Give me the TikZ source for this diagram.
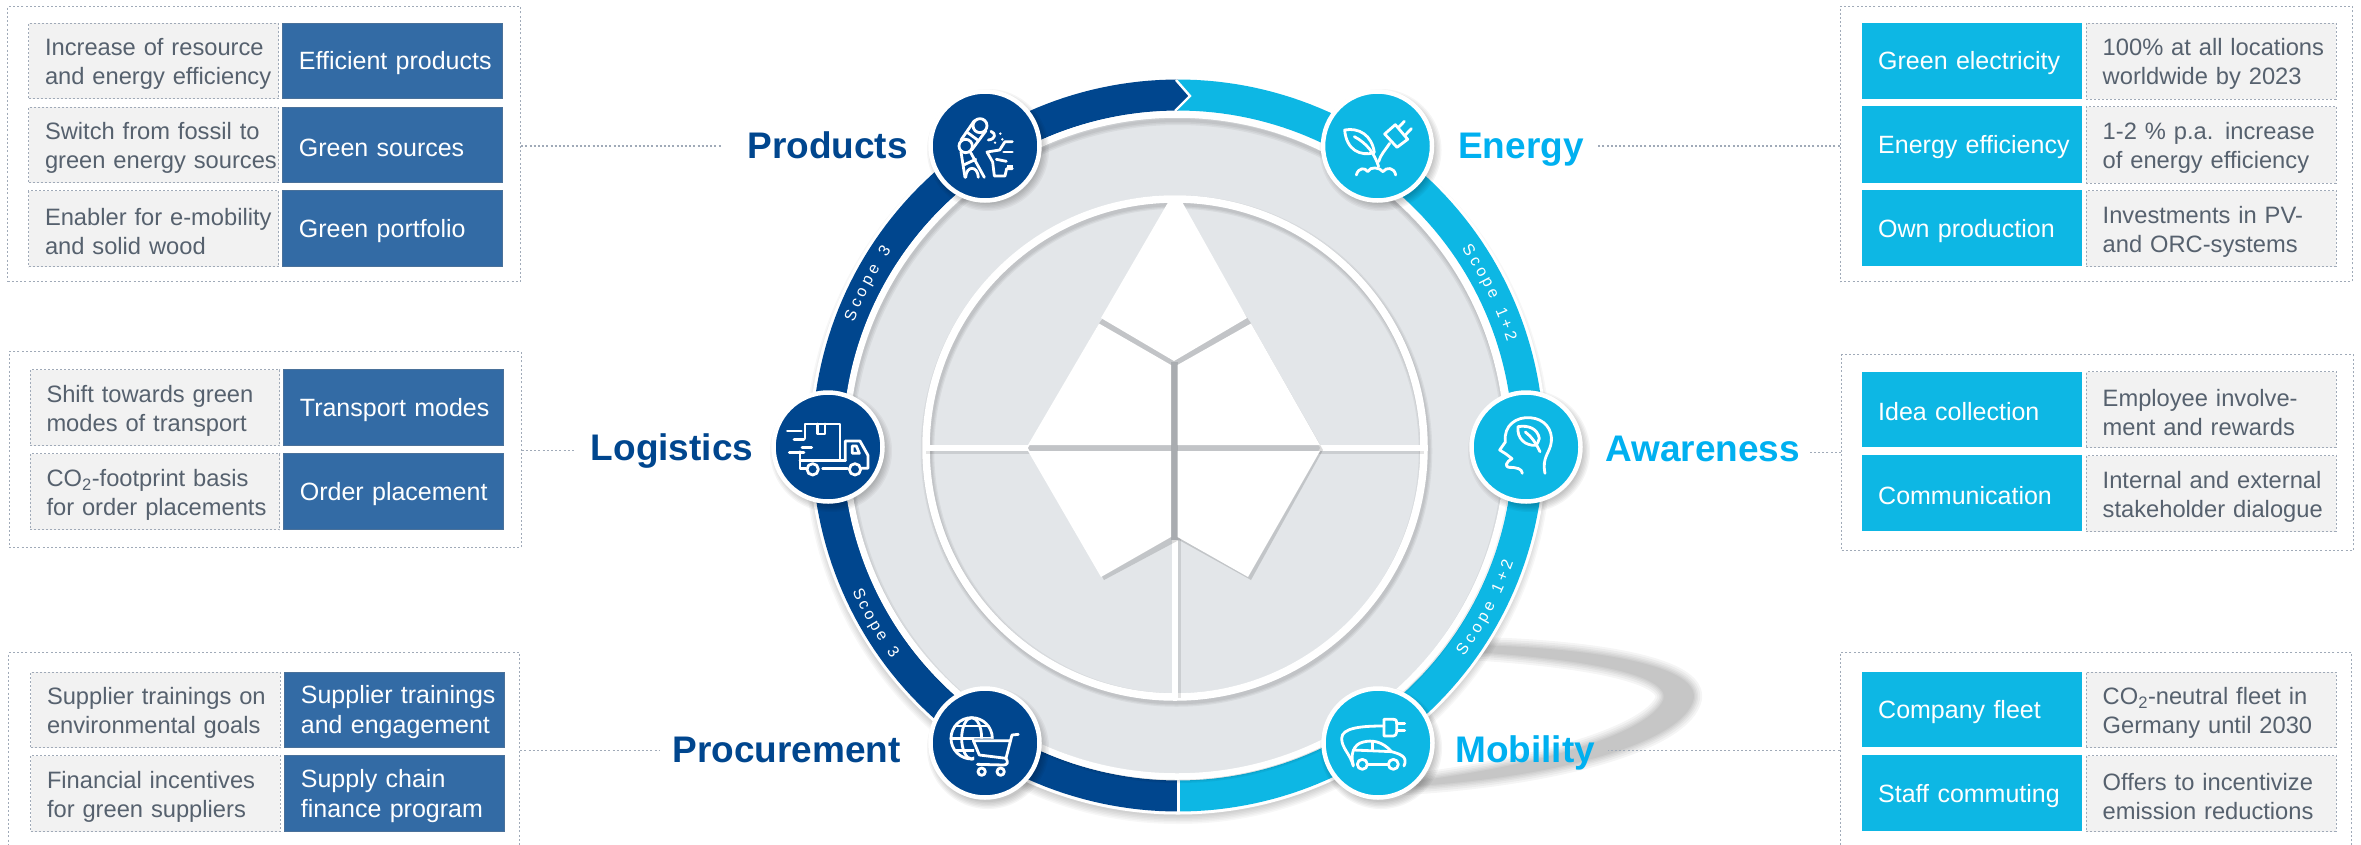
\documentclass[tikz,border=0pt]{standalone}
\usepackage{fontspec}
\setmainfont{Liberation Sans}
\usetikzlibrary{decorations.text}
\definecolor{dk}{HTML}{00468E}
\definecolor{bx}{HTML}{336BA5}
\definecolor{cy}{HTML}{0DB7E4}
\definecolor{lbc}{HTML}{00B0F0}
\definecolor{gd}{HTML}{E3E6E9}
\definecolor{gb}{HTML}{F2F2F2}
\definecolor{tg}{HTML}{56616E}
\definecolor{dt}{HTML}{A0AAB8}
\definecolor{gapc}{HTML}{C2C4C7}
\definecolor{gapd}{HTML}{A9ACB0}
\newcommand{\oneline}[1]{\mbox{#1}}
\tikzset{
  panel/.style={draw=dt,line width=1.1pt,dash pattern=on 2pt off 2.2pt,inner sep=0pt,anchor=north west},
  conn/.style={draw=dt,line width=1.1pt,dash pattern=on 2pt off 2.2pt},
  rowbase/.style={inner ysep=0pt,inner xsep=16.5pt,align=left,anchor=north west,font=\fontsize{23.7}{29}\selectfont},
  graybox/.style={rowbase,fill=gb,draw=dt,line width=1pt,dash pattern=on 2pt off 2pt,text=tg},
  bluebox/.style={rowbase,font=\fontsize{25}{30}\selectfont,fill=bx,draw=bx!70!gray,line width=.8pt,text=white},
  cyanbox/.style={rowbase,font=\fontsize{25}{30}\selectfont,fill=cy,text=white},
  lbl/.style={font=\bfseries\fontsize{37}{40}\selectfont,inner sep=0pt},
  ico/.style={draw=white,line width=2.8pt,line cap=round,line join=round},
  badge/.style={circle,inner sep=0pt,minimum size=109pt,draw=white,line width=4.5pt},
  scopetxt/.style={decorate,decoration={text along path,text align={fit to path},
     text={|\fontsize{16}{16}\selectfont\color{white}|#1}}},
}
% row helper: name, x0, y0, x1, y1, style, text
\newcommand{\rowb}[7]{%
  \pgfmathsetmacro{\rw}{#4-#2}\pgfmathsetmacro{\rh}{#5-#3}\pgfmathsetmacro{\rt}{\rw-33}%
  \node[#6,minimum width=\rw pt,minimum height=\rh pt,text width=\rt pt] (#1) at (#2,#3) {\rule{0pt}{23pt}#7};}
\newcommand{\panelb}[5]{%
  \pgfmathsetmacro{\rw}{#4-#2}\pgfmathsetmacro{\rh}{#5-#3}%
  \node[panel,minimum width=\rw pt,minimum height=\rh pt] (#1) at (#2,#3) {};}
\newcommand{\soft}[3]{% centre, radius : soft circular shadow
  \foreach \k in {0,1,...,5}{\fill[black,opacity=.04] (#1,#2) circle ({#3+5-1.4*\k});}}
\begin{document}
\begin{tikzpicture}[x=1pt,y=-1pt]
\useasboundingbox (0,0) rectangle (2361,844);
\fill[white] (0,0) rectangle (2361,844);

% panels
\panelb{pP}{7}{6}{520}{281}
\panelb{pL}{8.5}{351}{520.5}{547}
\panelb{pC}{8}{652}{519}{850}
\panelb{pE}{1839.5}{5.5}{2351.5}{281}
\panelb{pA}{1841}{354}{2352.5}{550}
\panelb{pM}{1839.5}{652}{2351}{850}

% left rows
\rowb{a1}{28}{22.7}{278}{98}{graybox}{\oneline{Increase of resource}\\\oneline{and energy efficiency}}
\rowb{b1}{282}{22.7}{502}{98}{bluebox}{\oneline{Efficient products}}
\rowb{a2}{28}{106.7}{278}{182}{graybox}{\oneline{Switch from fossil to}\\\oneline{green energy sources}}
\rowb{b2}{282}{106.7}{502}{182}{bluebox}{\oneline{Green sources}}
\rowb{a3}{28}{190}{278}{266}{graybox}{\oneline{Enabler for e-mobility}\\\oneline{and solid wood}}
\rowb{b3}{282}{190}{502}{266}{bluebox}{\oneline{Green portfolio}}
\rowb{a4}{29.5}{369.3}{279.4}{445.3}{graybox}{\oneline{Shift towards green}\\\oneline{modes of transport}}
\rowb{b4}{283}{369.3}{502.5}{445.3}{bluebox}{\oneline{Transport modes}}
\rowb{a5}{29.5}{453.3}{279.4}{529.3}{graybox}{\oneline{CO\textsubscript{2}-footprint basis}\\\oneline{for order placements}}
\rowb{b5}{283}{453.3}{502.5}{529.3}{bluebox}{\oneline{Order placement}}
\rowb{a6}{30}{671.7}{279.7}{747.3}{graybox}{\oneline{Supplier trainings on}\\\oneline{environmental goals}}
\rowb{b6}{284}{671.7}{503.5}{747.3}{bluebox}{\oneline{Supplier trainings}\\\oneline{and engagement}}
\rowb{a7}{30}{755}{279.7}{831}{graybox}{\oneline{Financial incentives}\\\oneline{for green suppliers}}
\rowb{b7}{284}{755}{503.5}{831}{bluebox}{\oneline{Supply chain}\\\oneline{finance program}}

% right rows
\rowb{c1}{1861.5}{22.6}{2082}{98.5}{cyanbox}{\oneline{Green electricity}}
\rowb{d1}{2085.7}{22.6}{2335.6}{98.5}{graybox}{\oneline{100\% at all locations}\\\oneline{worldwide by 2023}}
\rowb{c2}{1861.5}{106}{2082}{182.5}{cyanbox}{\oneline{Energy efficiency}}
\rowb{d2}{2085.7}{106}{2335.6}{182.5}{graybox}{\oneline{1-2 \% p.a. increase}\\\oneline{of energy efficiency}}
\rowb{c3}{1861.5}{190}{2082}{266}{cyanbox}{\oneline{Own production}}
\rowb{d3}{2085.7}{190}{2335.6}{266}{graybox}{\oneline{Investments in PV-}\\\oneline{and ORC-systems}}
\rowb{c4}{1861.5}{371.4}{2082}{447}{cyanbox}{\oneline{Idea collection}}
\rowb{d4}{2085.7}{371.4}{2335.6}{447}{graybox}{\oneline{Employee involve-}\\\oneline{ment and rewards}}
\rowb{c5}{1861.5}{455}{2082}{531}{cyanbox}{\oneline{Communication}}
\rowb{d5}{2085.7}{455}{2335.6}{531}{graybox}{\oneline{Internal and external}\\\oneline{stakeholder dialogue}}
\rowb{c6}{1861.5}{671.7}{2082}{747}{cyanbox}{\oneline{Company fleet}}
\rowb{d6}{2085.7}{671.7}{2335.6}{747}{graybox}{\oneline{CO\textsubscript{2}-neutral fleet in}\\\oneline{Germany until 2030}}
\rowb{c7}{1861.5}{755}{2082}{831}{cyanbox}{\oneline{Staff commuting}}
\rowb{d7}{2085.7}{755}{2335.6}{831}{graybox}{\oneline{Offers to incentivize}\\\oneline{emission reductions}}

% swoosh shadow behind the wheel
\foreach \w in {18,14,10,7,4,1.5}{
 \begin{scope}[transparency group,opacity=.04]
  \path[fill=black,draw=black,line width=\w pt,line join=round]
   (1400,646) .. controls (1560,642) and (1708,662) .. (1692,702)
   .. controls (1676,745) and (1540,783) .. (1360,788)
   .. controls (1530,772) and (1650,735) .. (1664,700)
   .. controls (1674,668) and (1540,652) .. (1400,648) -- cycle;
 \end{scope}}

% soft shadow of the wheel, then its white halo
\foreach \k in {0,1,...,5}{\draw[black,opacity=.03,line width={3+3*\k}] (1178,451) circle (364);}
\fill[white] (1178,445.5) circle (369);

% ring bands
\draw[cy,line width=31pt] plot[domain=-90:90,samples=120] ({1178+350.5*cos(\x)},{445.5+350.5*sin(\x)});
\draw[dk,line width=31pt] plot[domain=90:270,samples=120] ({1178+350.5*cos(\x)},{445.5+350.5*sin(\x)});
% chevron and bottom divider
\coordinate (chA) at (1176,80);
\coordinate (chB) at (1190,96);
\coordinate (chC) at (1175,111);
\fill[dk] (chA) -- (chB) -- (chC) -- cycle;
\draw[white,line width=2.4pt,line join=miter] (chA) -- (chB) -- (chC);
\draw[white,line width=2.4pt] (1178.5,779) -- (1178.5,812);

% grey disc
\fill[gd] (1177,445.5) circle (331);
\foreach \k in {1,2,3}{\draw[black,opacity=.05,line width={3*\k}] (1178,449.5) circle (329);}
\draw[white,line width=6.5pt] (1177,445.5) circle (331);

% inner white ring with shadow
\foreach \k in {1,2,3}{\draw[black,opacity=.05,line width={6+2.5*\k}] (1176.5,451) circle (249);}
\draw[white,line width=7.5pt] (1175,448) circle (249);
% cross lines
\draw[black,opacity=.1,line width=6pt] (926,451) -- (1424,451);
\draw[black,opacity=.1,line width=6pt] (1177.5,535) -- (1177.5,698);
\draw[white,line width=6pt] (926,448) -- (1424,448);
\draw[white,line width=6pt] (1175,535) -- (1175,698);

% leaf
\fill[black,opacity=.14] (1172,204) -- (1250,322) -- (1323,450) -- (1251,580) -- (1179,540) -- (1104,580) -- (1031,450) -- (1103,322) -- cycle;
\fill[gapc] (1175,230) -- (1250,322) -- (1320,448) -- (1248,575) -- (1177,535) -- (1101,575) -- (1028,448) -- (1100,322) -- cycle;
\fill[gapd] (1170.5,362) rectangle (1178,540);
\fill[white] (1170,199) -- (1180.5,199) -- (1247,318) -- (1174,361) -- (1101,318) -- cycle;
\fill[white] (1099,323.5) -- (1171,365) -- (1171,445) -- (1028,445) -- cycle;
\fill[white] (1251,323.5) -- (1177.5,365) -- (1177.5,445) -- (1320,445) -- cycle;
\fill[white] (1028,451) -- (1171,451) -- (1171,537) -- (1101,577) -- cycle;
\fill[white] (1177.5,451) -- (1320,451) -- (1248,577) -- (1177.5,537) -- cycle;

% scope texts along the ring
\path[scopetxt={Scope 3}] plot[domain=200.9:214.3,samples=30] ({1177+346*cos(\x)},{445.5+346*sin(\x)});
\path[scopetxt={Scope 3}] plot[domain=155.8:143.3,samples=30] ({1177+356*cos(\x)},{445.5+356*sin(\x)});
\path[scopetxt={Scope 1+2}] plot[domain=325.3:342.6,samples=30] ({1177+346*cos(\x)},{445.5+346*sin(\x)});
\path[scopetxt={Scope 1+2}] plot[domain=36.3:19.1,samples=30] ({1177+356*cos(\x)},{445.5+356*sin(\x)});

% badge shadows and badges
\soft{988}{150}{56}
\soft{1380.5}{150}{56}
\soft{831}{451}{56}
\soft{1529}{451}{56}
\soft{988}{748}{56}
\soft{1381}{748}{56}
\node[badge,fill=dk] (iP) at (985,146) {};
\node[badge,fill=cy] (iE) at (1377.5,146) {};
\node[badge,fill=dk] (iL) at (828,447) {};
\node[badge,fill=cy] (iA) at (1526,447) {};
\node[badge,fill=dk] (iC) at (985,743) {};
\node[badge,fill=cy] (iM) at (1378,743) {};

% labels
\node[lbl,text=dk,anchor=base east] (lP) at (908,158) {Products};
\node[lbl,text=dk,anchor=base east] (lL) at (753.5,460) {Logistics};
\node[lbl,text=dk,anchor=base east] (lC) at (901,762) {Procurement};
\node[lbl,text=lbc,anchor=base west] (lE) at (1458,158) {Energy};
\node[lbl,text=lbc,anchor=base west] (lA) at (1605,461) {Awareness};
\node[lbl,text=lbc,anchor=base west] (lM) at (1455,762) {Mobility};

% connectors
\coordinate (cP) at (721,146);
\coordinate (cL) at (575,450.7);
\coordinate (cC) at (660,750.7);
\coordinate (cE) at (1596,146);
\coordinate (cA) at (1809,452.6);
\coordinate (cM) at (1608,750.5);
\draw[conn] (pP.east |- cP) -- (cP);
\draw[conn] (pL.east |- cL) -- (cL);
\draw[conn] (pC.east |- cC) -- (cC);
\draw[conn] (pE.west |- cE) -- (cE);
\draw[conn] (pA.west |- cA) -- (cA);
\draw[conn] (pM.west |- cM) -- (cM);

% Products icon
\begin{scope}[shift={(925,90)},x=.3333pt,y=-.3333pt]
 \draw[ico] (165,107) circle (21);
 \draw[ico] (122,168) circle (20);
 \draw[ico] (148,92) -- (108,150);
 \draw[ico] (183,122) -- (140,180);
 \draw[ico] (128,128) -- (158,150);
 \draw[ico] (108,186) -- (120,262);
 \draw[ico] (136,186) -- (178,262);
 \draw[ico] (118,224) -- (152,208);
 \draw[ico] (122,262) .. controls (124,226) and (158,226) .. (160,262);
 \draw[ico] (262,155) -- (240,155) -- (224,180) -- (186,186) -- (203,216) -- (208,258) -- (240,258) -- (245,236) -- (262,236);
 \draw[ico] (262,186) -- (236,186);
 \draw[ico] (214,208) -- (244,214);
 \draw[ico] (198,124) .. controls (214,130) and (212,148) .. (190,150);
 \fill[white] (226,131) circle (4) (232,148) circle (4) (210,158) circle (4);
 \fill[white] (246,224) rectangle (264,236);
\end{scope}

% Energy icon
\begin{scope}[shift={(1317,90)},x=.3333pt,y=-.3333pt]
 \draw[ico] (83,120) .. controls (125,112) and (165,135) .. (172,188) .. controls (130,200) and (88,180) .. (83,120) -- cycle;
 \draw[ico] (112,140) .. controls (150,160) and (172,190) .. (185,230);
 \draw[ico] (185,215) .. controls (190,195) and (205,180) .. (218,160);
 \draw[ico] (203,132) -- (235,104) -- (272,148) -- (240,172) -- cycle;
 \draw[ico] (245,112) -- (262,94);
 \draw[ico] (265,135) -- (283,116);
 \draw[ico] (118,255) .. controls (124,232) and (145,232) .. (152,245) .. controls (160,228) and (188,232) .. (198,245) .. controls (208,230) and (232,232) .. (236,255);
\end{scope}

% Logistics icon
\begin{scope}[shift={(740,370)},x=.3333pt,y=-.3333pt]
 \draw[ico] (195,205) -- (195,162) -- (300,162) -- (300,272);
 \draw[ico] (232,162) -- (232,192) -- (255,192) -- (255,162);
 \draw[ico] (142,183) -- (184,183);
 \draw[ico] (162,208) -- (192,208);
 \draw[ico] (186,232) -- (215,232);
 \draw[ico] (148,248) -- (192,248);
 \draw[ico] (180,245) -- (180,295) -- (198,295);
 \draw[ico] (180,272) -- (316,272);
 \draw[ico] (218,298) circle (17);
 \draw[ico] (345,298) circle (17);
 \draw[ico] (248,295) -- (322,295);
 \draw[ico] (316,272) -- (316,213) -- (360,213) -- (384,256) -- (384,295) -- (364,295);
 \draw[ico] (337,228) -- (349,228) -- (358,250) -- (337,250) -- cycle;
\end{scope}

% Awareness icon
\begin{scope}[shift={(1450,370)},x=.3333pt,y=-.3333pt]
 \draw[ico] (217,310) .. controls (216,296) and (200,292) .. (176,292) .. controls (164,290) and (168,275) .. (186,266) -- (168,252) -- (149,240) -- (166,216) .. controls (160,165) and (200,140) .. (240,143) .. controls (285,146) and (308,180) .. (304,215) .. controls (300,250) and (275,260) .. (285,310);
 \draw[ico] (204,170) .. controls (235,165) and (262,175) .. (268,205) .. controls (265,215) and (262,222) .. (258,226) .. controls (225,228) and (200,205) .. (204,170) -- cycle;
 \draw[ico] (226,186) .. controls (245,200) and (258,220) .. (270,245);
\end{scope}

% Procurement icon
\begin{scope}[shift={(900,670)},x=.3333pt,y=-.3333pt]
 \begin{scope}
  \clip (140,130) rectangle (290,206) (140,206) rectangle (222,280);
  \draw[ico] (215,205) circle (62);
  \draw[ico] (215,205) ellipse (30 and 62);
  \draw[ico] (153,205) -- (277,205);
  \draw[ico] (165,168) -- (265,168);
  \draw[ico] (165,242) -- (265,242);
 \end{scope}
 \draw[ico] (355,193) -- (336,195) -- (318,265) -- (238,255) -- (220,212) -- (332,212);
 \draw[ico] (318,265) .. controls (326,278) and (322,285) .. (310,285) -- (232,283);
 \draw[ico] (245,305) circle (11);
 \draw[ico] (302,305) circle (11);
\end{scope}

% Mobility icon
\begin{scope}[shift={(1300,640)},x=.3333pt,y=-.3333pt]
 \draw[ico] (252,238) -- (280,238) .. controls (290,238) and (290,245) .. (290,250) -- (290,276) .. controls (290,284) and (285,288) .. (280,288) -- (252,288) -- cycle;
 \draw[ico] (290,250) -- (314,250);
 \draw[ico] (290,272) -- (314,272);
 \draw[ico] (252,258) .. controls (190,258) and (125,262) .. (125,295) .. controls (125,325) and (150,340) .. (160,378);
 \draw[ico] (160,375) .. controls (150,345) and (160,312) .. (190,306) .. controls (215,300) and (245,302) .. (275,335) .. controls (300,342) and (325,350) .. (312,378);
 \draw[ico] (187,373) circle (15);
 \draw[ico] (280,373) circle (15);
 \draw[ico] (204,374) -- (263,374);
 \draw[ico] (160,330) -- (275,335);
 \draw[ico] (218,304) -- (218,330);
\end{scope}
\end{tikzpicture}
\end{document}
